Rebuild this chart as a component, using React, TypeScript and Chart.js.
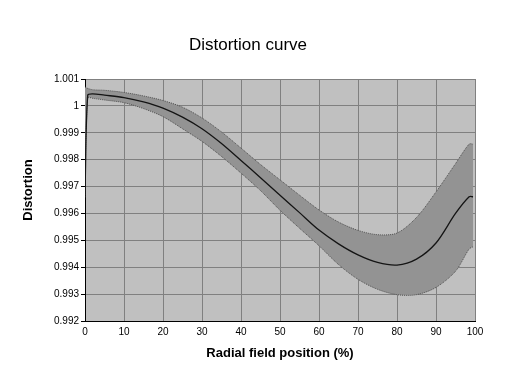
import React, { useEffect, useRef } from "react";
import { Chart, registerables } from "chart.js";

Chart.register(...registerables);

const xPositions = [0, 0.7, 2, 5, 10, 15, 20, 25, 30, 35, 40, 45, 50, 55, 60, 65, 70, 75, 80, 85, 90, 95, 98.5, 99.5];
const centerValues = [0.9967, 1.0004, 1.00045, 1.0004, 1.00031, 1.00015, 0.99992, 0.99958, 0.99915, 0.9986, 0.99797, 0.99733, 0.99668, 0.99603, 0.99538, 0.99487, 0.99446, 0.99418, 0.99408, 0.9943, 0.9949, 0.996, 0.99662, 0.99662];
const upperValues = [1.0007, 1.00065, 1.0006, 1.00058, 1.0005, 1.00037, 1.0002, 0.99995, 0.99955, 0.99903, 0.99843, 0.99782, 0.99725, 0.99668, 0.99613, 0.99568, 0.99537, 0.99521, 0.99527, 0.99585, 0.9968, 0.99785, 0.99858, 0.99858];
const lowerValues = [0.9966, 1.0003, 1.00028, 1.00022, 1.00012, 0.9999, 0.9996, 0.99915, 0.99868, 0.99812, 0.9975, 0.99685, 0.99612, 0.99545, 0.9948, 0.9941, 0.99355, 0.99318, 0.99298, 0.99298, 0.99325, 0.99385, 0.99468, 0.99476];

const chartTitle = "Distortion curve";
const xTitle = "Radial field position (%)";
const yTitle = "Distortion";
const yMin = 0.992;
const yMax = 1.001;
const yStep = 0.001;
const xMin = 0;
const xMax = 100;
const xStep = 10;

const FONT = "'Liberation Sans', Arial, sans-serif";

export default function App() {
  const ref = useRef<HTMLCanvasElement | null>(null);

  useEffect(() => {
    const canvas = ref.current;
    if (!canvas) return;
    const toPts = (vals: number[]) => vals.map((v, i) => ({ x: xPositions[i], y: v }));

    const bgPlugin = {
      id: "plotBg",
      beforeDraw(chart: any) {
        const { ctx, chartArea } = chart;
        ctx.save();
        ctx.fillStyle = "#ffffff";
        ctx.fillRect(0, 0, chart.width, chart.height);
        ctx.fillStyle = "#c0c0c0";
        ctx.fillRect(chartArea.left, chartArea.top, chartArea.right - chartArea.left, chartArea.bottom - chartArea.top);
        ctx.restore();
      },
      afterDraw(chart: any) {
        const { ctx } = chart;
        ctx.save();
        ctx.fillStyle = "#000";
        ctx.textAlign = "center";
        ctx.textBaseline = "middle";
        ctx.font = `17px ${FONT}`;
        ctx.fillText(chartTitle, 248, 45);
        ctx.font = `bold 13px ${FONT}`;
        ctx.fillText(xTitle, 280, 353);
        ctx.translate(28, 190);
        ctx.rotate(-Math.PI / 2);
        ctx.fillText(yTitle, 0, 0);
        ctx.restore();
      },
    };

    const chart = new Chart(canvas, {
      type: "line",
      data: {
        datasets: [
          {
            label: "upper",
            data: toPts(upperValues),
            borderColor: "#505050",
            borderWidth: 1,
            borderDash: [1, 1],
            backgroundColor: "#939393",
            fill: "+1",
            pointRadius: 0,
            tension: 0.3,
            order: 2,
          },
          {
            label: "lower",
            data: toPts(lowerValues),
            borderColor: "#505050",
            borderWidth: 1,
            borderDash: [1, 1],
            backgroundColor: "#939393",
            fill: false,
            pointRadius: 0,
            tension: 0.3,
            order: 1,
          },
          {
            label: "center",
            data: toPts(centerValues),
            borderColor: "#141414",
            borderWidth: 1.3,
            fill: false,
            pointRadius: 0,
            tension: 0.3,
            order: 0,
          },
        ],
      },
      options: {
        animation: false,
        responsive: false,
        maintainAspectRatio: false,
        layout: { padding: { left: 0, right: 55, top: 79, bottom: 0 } },
        plugins: {
          legend: { display: false },
          title: { display: false },
          tooltip: { enabled: false },
        },
        scales: {
          x: {
            type: "linear",
            min: xMin,
            max: xMax,
            ticks: {
              stepSize: xStep,
              color: "#000",
              font: { family: FONT, size: 10 },
              maxRotation: 0,
              padding: 5,
            },
            grid: { color: "#808080", lineWidth: 1, drawTicks: false },
            border: { color: "#000", width: 1 },
            afterFit(scale: any) {
              scale.height = 61;
            },
          },
          y: {
            min: yMin,
            max: yMax,
            ticks: {
              stepSize: yStep,
              color: "#000",
              font: { family: FONT, size: 10 },
              padding: 2,
              callback: (v: any) => String(parseFloat(Number(v).toFixed(3))),
            },
            grid: { color: "#808080", lineWidth: 1, tickColor: "#000", tickLength: 4 },
            border: { color: "#000", width: 1 },
            afterFit(scale: any) {
              scale.width = 85;
            },
          },
        },
      },
      plugins: [bgPlugin],
    } as any);

    return () => chart.destroy();
  }, []);

  return (
    <div style={{ position: "fixed", left: 0, top: 0, width: 530, height: 382, background: "#fff" }}>
      <canvas ref={ref} width={530} height={382} style={{ width: 530, height: 382 }} />
    </div>
  );
}
